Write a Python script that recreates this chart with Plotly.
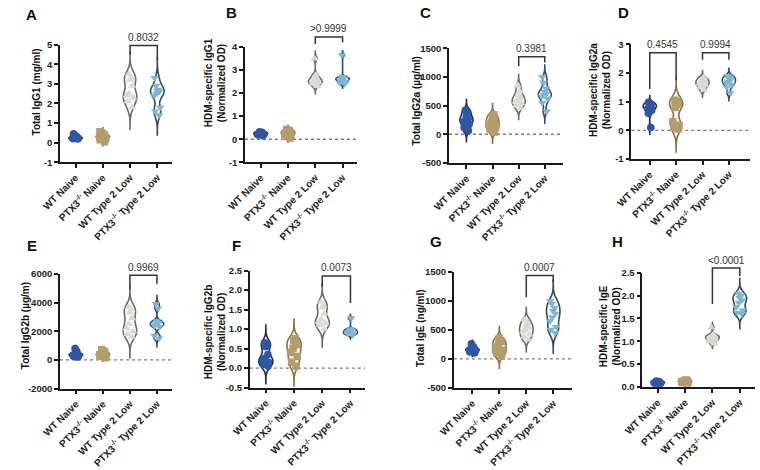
import numpy as np
import plotly.graph_objects as go

# ---------------- data ----------------
group_labels = ["WT Naive", "PTX3<sup>-/-</sup> Naive", "WT Type 2 Low", "PTX3<sup>-/-</sup> Type 2 Low"]

a_wt_naive = [0.18, 0.2, 0.22, 0.24, 0.25, 0.27, 0.3, 0.33, 0.38, 0.45]
a_ptx3_naive = [0.05, 0.15, 0.22, 0.28, 0.3, 0.33, 0.36, 0.42, 0.5, 0.55]
a_wt_t2l = [1.8, 2.1, 2.3, 2.4, 2.5, 2.9, 3.2, 3.3, 3.5]
a_ptx3_t2l = [1.4, 1.6, 1.8, 2.4, 2.5, 2.6, 2.65, 2.7, 2.9, 3.3]

b_wt_naive = [0.15, 0.18, 0.2, 0.22, 0.24, 0.26, 0.28, 0.3, 0.32]
b_ptx3_naive = [0.05, 0.12, 0.18, 0.22, 0.26, 0.3, 0.33, 0.38, 0.42]
b_wt_t2l = [2.3, 2.4, 2.45, 2.5, 2.55, 2.6, 2.7, 2.8, 3.5]
b_ptx3_t2l = [2.4, 2.45, 2.5, 2.55, 2.6, 2.62, 2.65, 2.7, 3.65]

c_wt_naive = [60, 120, 180, 220, 250, 280, 320, 380, 420]
c_ptx3_naive = [40, 90, 130, 170, 210, 250, 300, 340]
c_wt_t2l = [450, 500, 540, 570, 600, 640, 680, 750, 850]
c_ptx3_t2l = [400, 550, 620, 660, 690, 710, 740, 800, 900, 1000]

d_wt_naive = [0.1, 0.6, 0.7, 0.75, 0.8, 0.85, 0.88, 0.92, 0.98]
d_ptx3_naive = [0.05, 0.1, 0.18, 0.3, 0.8, 0.9, 0.95, 1.0, 1.05]
d_wt_t2l = [1.4, 1.5, 1.58, 1.62, 1.68, 1.72, 1.78, 1.85]
d_ptx3_t2l = [1.3, 1.5, 1.6, 1.65, 1.7, 1.75, 1.8, 1.85, 1.9]

e_wt_naive = [200, 250, 300, 350, 380, 420, 480, 600, 800]
e_ptx3_naive = [150, 250, 300, 350, 400, 450, 500, 600, 700]
e_wt_t2l = [1600, 1800, 2000, 2200, 2500, 2900, 3300, 3500, 3700]
e_ptx3_t2l = [1500, 1700, 2300, 2400, 2500, 2600, 2700, 3600, 3900]

f_wt_naive = [0.05, 0.1, 0.15, 0.2, 0.25, 0.35, 0.55, 0.62, 0.65]
f_ptx3_naive = [0.05, 0.15, 0.3, 0.4, 0.5, 0.6, 0.7, 0.75]
f_wt_t2l = [1.0, 1.1, 1.15, 1.2, 1.25, 1.4, 1.55, 1.6, 1.7]
f_ptx3_t2l = [0.85, 0.88, 0.9, 0.92, 0.95, 0.97, 1.0, 1.28]

g_wt_naive = [100, 120, 140, 150, 160, 175, 190, 210, 260]
g_ptx3_naive = [50, 100, 150, 200, 250, 300, 350]
g_wt_t2l = [330, 380, 420, 470, 500, 540, 580, 620, 680]
g_ptx3_t2l = [450, 500, 550, 650, 720, 780, 830, 880, 950, 1000]

h_wt_naive = [0.06, 0.07, 0.08, 0.09, 0.1, 0.1, 0.11, 0.12, 0.13]
h_ptx3_naive = [0.07, 0.09, 0.1, 0.11, 0.12, 0.13, 0.14, 0.15]
h_wt_t2l = [0.95, 1.0, 1.03, 1.06, 1.08, 1.1, 1.12, 1.15, 1.3]
h_ptx3_t2l = [1.6, 1.63, 1.68, 1.75, 1.85, 1.9, 1.95, 2.0, 2.05]

y_titles = ["Total IgG1 (mg/ml)", "HDM-specific IgG1<br>(Normalized OD)", "Total IgG2a (µg/ml)",
            "HDM-specific IgG2a<br>(Normalized OD)", "Total IgG2b (µg/m)", "HDM-specific IgG2b<br>(Normalized OD)",
            "Total IgE (ng/ml)", "HDM-specific IgE<br>(Normalized OD)"]
panel_letters = ["A", "B", "C", "D", "E", "F", "G", "H"]

a_ticks = [-1, 0, 1, 2, 3, 4, 5]
b_ticks = [-1, 0, 1, 2, 3, 4]
c_ticks = [-500, 0, 500, 1000, 1500]
d_ticks = [-1, 0, 1, 2, 3]
e_ticks = [-2000, 0, 2000, 4000, 6000]
f_ticks = [-0.5, 0.0, 0.5, 1.0, 1.5, 2.0, 2.5]
g_ticks = [-500, 0, 500, 1000, 1500]
h_ticks = [0.0, 0.5, 1.0, 1.5, 2.0, 2.5]

# p-values: (left group, right group, p text)
a_p = [(2, 3, "0.8032")]
b_p = [(2, 3, ">0.9999")]
c_p = [(2, 3, "0.3981")]
d_p = [(0, 1, "0.4545"), (2, 3, "0.9994")]
e_p = [(2, 3, "0.9969")]
f_p = [(2, 3, "0.0073")]
g_p = [(2, 3, "0.0007")]
h_p = [(2, 3, "<0.0001")]

# ---------------- style / layout ----------------
W, H = 760, 470
FONT = "Arial, Liberation Sans, sans-serif"
fills = ["#2f56a6", "#b39d6c", "#dcd9d2", "#7db5d5"]
outlines = ["#1b2a57", "#86703f", "#6a6a6a", "#2f4d60"]
symbols = ["circle", "square", "triangle-up", "triangle-down"]
AXC = "#1a1a1a"
BW_FACTOR = 0.72
TAIL = 4.0

# per panel: pixel box (left, right, top, bottom), x range, bracket geometry (top, left leg end, right leg end, text y)
panels = [
    dict(data=[a_wt_naive, a_ptx3_naive, a_wt_t2l, a_ptx3_t2l], ticks=a_ticks, fmt="", p=a_p,
         box=(42, 157, 39.5, 160), xr=(-0.57, 3.54), br=[(4.95, 4.5, 4.2, 5.37)], zero=False,
         letter=(13, 9), ytitle=(18, 88)),
    dict(data=[b_wt_naive, b_ptx3_naive, b_wt_t2l, b_ptx3_t2l], ticks=b_ticks, fmt="", p=b_p,
         box=(231.7, 347, 42, 160), xr=(-0.58, 3.54), br=[(4.44, 4.13, 4.2, 4.79)], zero=True,
         letter=(218, 7), ytitle=(201, 78)),
    dict(data=[c_wt_naive, c_ptx3_naive, c_wt_t2l, c_ptx3_t2l], ticks=c_ticks, fmt="", p=c_p,
         box=(441, 558, 43.3, 160.7), xr=(-0.67, 3.7), br=[(1352, 1187, 1250, 1500)], zero=True,
         letter=(417, 7), ytitle=(408, 97)),
    dict(data=[d_wt_naive, d_ptx3_naive, d_wt_t2l, d_ptx3_t2l], ticks=d_ticks, fmt="", p=d_p,
         box=(628, 750, 39.3, 156.7), xr=(-0.7, 3.81), br=[(2.71, 1.44, 1.75, 3.0), (2.71, 2.46, 2.46, 3.0)],
         zero=True, letter=(620, 7), ytitle=(596, 86)),
    dict(data=[e_wt_naive, e_ptx3_naive, e_wt_t2l, e_ptx3_t2l], ticks=e_ticks, fmt="", p=e_p,
         box=(42, 157, 274.3, 391.7), xr=(-0.59, 3.56), br=[(5905, 4930, 5318, 6477)], zero=True,
         letter=(13, 245), ytitle=(6, 327)),
    dict(data=[f_wt_naive, f_ptx3_naive, f_wt_t2l, f_ptx3_t2l], ticks=f_ticks, fmt=".1f", p=f_p,
         box=(236.7, 355, 271, 390.7), xr=(-0.57, 3.52), br=[(2.36, 2.08, 1.67, 2.58)], zero=True,
         letter=(223, 245), ytitle=(201, 334)),
    dict(data=[g_wt_naive, g_ptx3_naive, g_wt_t2l, g_ptx3_t2l], ticks=g_ticks, fmt="", p=g_p,
         box=(446, 566.7, 272.3, 391), xr=(-0.69, 3.68), br=[(1438, 1062, 1325, 1584)], zero=True,
         letter=(428, 241), ytitle=(412, 330)),
    dict(data=[h_wt_naive, h_ptx3_naive, h_wt_t2l, h_ptx3_t2l], ticks=h_ticks, fmt=".1f", p=h_p,
         box=(639.3, 755, 273.3, 390), xr=(-0.56, 3.56), br=[(2.61, 1.82, 2.43, 2.78)], zero=False,
         letter=(614, 241), ytitle=(606, 328)),
]


def silverman(vals):
    v = np.asarray(vals, dtype=float)
    sd = v.std(ddof=1)
    q1, q3 = np.percentile(v, [25, 75])
    s = min(sd, (q3 - q1) / 1.349) if q3 > q1 else sd
    return 1.059 * s * len(v) ** -0.2


fig = go.Figure()
layout = dict(width=W, height=H, margin=dict(l=0, r=0, t=0, b=0), paper_bgcolor="white",
              plot_bgcolor="white", showlegend=False, violinmode="overlay",
              font=dict(family=FONT, color=AXC))
shapes, annotations = [], []

for k, pn in enumerate(panels):
    n = k + 1
    xa, ya = ("x" if n == 1 else f"x{n}"), ("y" if n == 1 else f"y{n}")
    l, r, t, b = pn["box"]
    ticks = pn["ticks"]
    y0, y1 = ticks[0], ticks[-1]
    xr0, xr1 = pn["xr"]

    def vx(c, l=l, r=r, xr0=xr0, xr1=xr1):
        return (l + (c - xr0) / (xr1 - xr0) * (r - l)) / W

    def vy(v, t=t, b=b, y0=y0, y1=y1):
        return 1 - (t + (y1 - v) / (y1 - y0) * (b - t)) / H

    for i, vals in enumerate(pn["data"]):
        bw = BW_FACTOR * silverman(vals)
        fig.add_trace(go.Violin(
            x=[i] * len(vals), y=vals, xaxis=xa, yaxis=ya,
            fillcolor="white", line=dict(color=outlines[i], width=1.6),
            points="all", pointpos=0, jitter=0.6, width=0.5,
            bandwidth=bw, spanmode="manual", span=[min(vals) - TAIL * bw, max(vals) + TAIL * bw],
            marker=dict(symbol=symbols[i], color=fills[i], size=7.5, line=dict(width=0)),
            showlegend=False, hoverinfo="y"))

    xkey = "xaxis" if n == 1 else f"xaxis{n}"
    ykey = "yaxis" if n == 1 else f"yaxis{n}"
    layout[xkey] = dict(domain=[l / W, r / W], anchor=ya, range=[xr0, xr1],
                        tickvals=[0, 1, 2, 3], ticktext=group_labels, tickangle=-45,
                        showgrid=False, zeroline=False, showline=True, linecolor=AXC, linewidth=1.6,
                        ticks="outside", ticklen=4, tickwidth=1.5, tickcolor=AXC,
                        tickfont=dict(family=FONT, size=10, color="#222", weight="bold"))
    ticktext = [(format(v, pn["fmt"]) if pn["fmt"] else str(v)) for v in ticks]
    layout[ykey] = dict(domain=[1 - b / H, 1 - t / H], anchor=xa, range=[y0, y1],
                        tickvals=ticks, ticktext=ticktext,
                        showgrid=False, zeroline=False, showline=True, linecolor=AXC, linewidth=1.6,
                        ticks="outside", ticklen=4, tickwidth=1.5, tickcolor=AXC,
                        tickfont=dict(family=FONT, size=9.5, color="#222", weight="bold"))

    if pn["zero"]:
        shapes.append(dict(type="line", xref=f"{xa} domain", yref=ya, x0=0, x1=1, y0=0, y1=0,
                           line=dict(color="#7a7a7a", width=1.4, dash="dot"), layer="below"))

    for (gl, gr, txt), (btop, lleg, rleg, ty) in zip(pn["p"], pn["br"]):
        shapes.append(dict(type="path", xref="paper", yref="paper",
                           path=f"M {vx(gl)} {vy(lleg)} L {vx(gl)} {vy(btop)} L {vx(gr)} {vy(btop)} L {vx(gr)} {vy(rleg)}",
                           line=dict(color="#333333", width=1.5)))
        annotations.append(dict(xref="paper", yref="paper", x=(vx(gl) + vx(gr)) / 2, y=vy(ty),
                                text=txt, showarrow=False, xanchor="center", yanchor="middle",
                                font=dict(family=FONT, size=10, color="#333")))

    lx, ly = pn["letter"]
    annotations.append(dict(xref="paper", yref="paper", x=lx / W, y=1 - ly / H, text=panel_letters[k],
                            showarrow=False, xanchor="center", yanchor="middle",
                            font=dict(family=FONT, size=15, color="#111", weight="bold")))
    tx, tyy = pn["ytitle"]
    annotations.append(dict(xref="paper", yref="paper", x=tx / W, y=1 - tyy / H, text=y_titles[k],
                            showarrow=False, xanchor="center", yanchor="middle", textangle=-90,
                            font=dict(family=FONT, size=10, color="#111", weight="bold")))

layout["shapes"] = shapes
layout["annotations"] = annotations
fig.update_layout(**layout)
fig.write_html("out.html")
